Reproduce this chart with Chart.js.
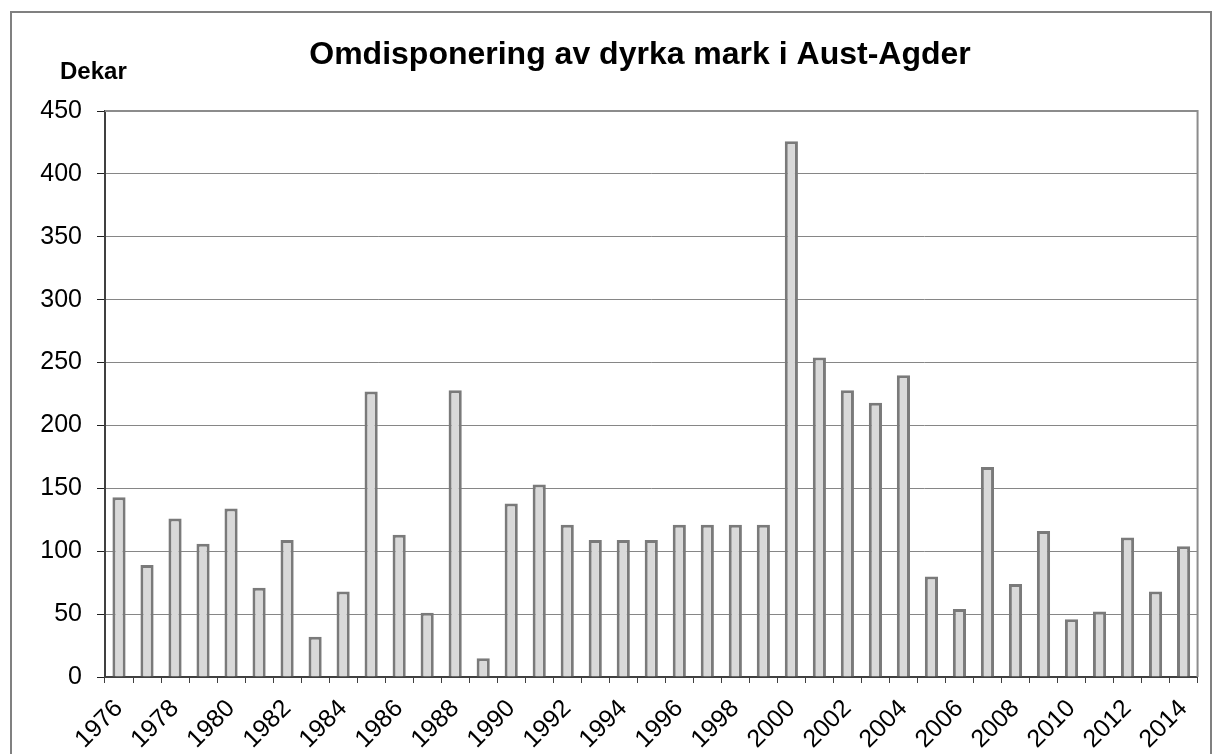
<!DOCTYPE html>
<html>
<head>
<meta charset="utf-8">
<script src="https://cdn.jsdelivr.net/npm/chart.js@4.4.1/dist/chart.umd.min.js"></script>
<style>
  html, body { margin: 0; padding: 0; background: #ffffff; }
  #wrap { width: 1216px; height: 754px; position: relative; }
</style>
</head>
<body>
<div id="wrap"><canvas id="c" width="1216" height="754"></canvas></div>
<script>
const chartTitle = 'Omdisponering av dyrka mark i Aust-Agder';
const yAxisTitle = 'Dekar';
const years = ['1976','1977','1978','1979','1980','1981','1982','1983','1984','1985',
               '1986','1987','1988','1989','1990','1991','1992','1993','1994','1995',
               '1996','1997','1998','1999','2000','2001','2002','2003','2004','2005',
               '2006','2007','2008','2009','2010','2011','2012','2013','2014'];
const dekar = [143, 89, 126, 106, 134, 71, 109, 32, 68, 227,
               113, 51, 228, 15, 138, 153, 121, 109, 109, 109,
               121, 121, 121, 121, 426, 254, 228, 218, 240, 80,
               54, 167, 74, 116, 46, 52, 111, 68, 104];
const yTicks = [0, 50, 100, 150, 200, 250, 300, 350, 400, 450];

const decorPlugin = {
  id: 'decor',
  beforeDraw(chart) {
    const ctx = chart.ctx;
    ctx.save();
    ctx.fillStyle = '#ffffff';
    ctx.fillRect(0, 0, chart.width, chart.height);
    ctx.restore();
  },
  afterDraw(chart) {
    const ctx = chart.ctx;
    const a = chart.chartArea;
    ctx.save();
    ctx.strokeStyle = '#8c8c8c';
    ctx.lineWidth = 2;
    ctx.beginPath();
    ctx.moveTo(a.left, a.top);
    ctx.lineTo(a.right, a.top);
    ctx.lineTo(a.right, a.bottom);
    ctx.stroke();
    ctx.strokeStyle = '#808080';
    ctx.lineWidth = 2;
    ctx.beginPath();
    ctx.moveTo(11, 760);
    ctx.lineTo(11, 12);
    ctx.lineTo(1211, 12);
    ctx.lineTo(1211, 760);
    ctx.stroke();
    ctx.fillStyle = '#000000';
    ctx.textAlign = 'center';
    ctx.textBaseline = 'middle';
    ctx.font = 'bold 32px "Liberation Sans", Arial, sans-serif';
    ctx.fillText(chartTitle, 640, 55);
    ctx.textAlign = 'left';
    ctx.font = 'bold 24px "Liberation Sans", Arial, sans-serif';
    ctx.fillText(yAxisTitle, 60, 72);
    ctx.restore();
  }
};

new Chart(document.getElementById('c'), {
  type: 'bar',
  data: {
    labels: years,
    datasets: [{
      data: dekar,
      backgroundColor: '#d9d9d9',
      borderColor: '#7a7a7a',
      borderWidth: 3,
      barPercentage: 0.47,
      categoryPercentage: 1.0
    }]
  },
  options: {
    responsive: false,
    devicePixelRatio: 1,
    animation: false,
    layout: { padding: { top: 111, right: 18, bottom: 0, left: 0 } },
    plugins: {
      legend: { display: false },
      title: { display: false },
      tooltip: { enabled: false }
    },
    scales: {
      x: {
        type: 'category',
        offset: true,
        grid: {
          offset: true,
          drawOnChartArea: false,
          drawTicks: true,
          tickLength: 6,
          color: '#404040',
          lineWidth: 1
        },
        border: { display: true, color: '#404040', width: 2 },
        ticks: {
          autoSkip: false,
          maxRotation: 45,
          minRotation: 45,
          padding: 11,
          color: '#000000',
          font: { family: '"Liberation Sans", Arial, sans-serif', size: 25 },
          callback: function(val, idx) { return idx % 2 === 0 ? years[idx] : ''; }
        },
        afterFit: function(scale) { scale.height = 77; }
      },
      y: {
        min: 0,
        max: 450,
        afterBuildTicks: function(scale) { scale.ticks = yTicks.map(v => ({ value: v })); },
        grid: {
          color: '#868686',
          lineWidth: 1,
          drawTicks: true,
          tickLength: 8,
          tickColor: '#202020'
        },
        border: { display: true, color: '#404040', width: 2 },
        ticks: {
          padding: 15,
          color: '#000000',
          font: { family: '"Liberation Sans", Arial, sans-serif', size: 25 }
        },
        afterFit: function(scale) { scale.width = 105; }
      }
    }
  },
  plugins: [decorPlugin]
});
</script>
</body>
</html>
